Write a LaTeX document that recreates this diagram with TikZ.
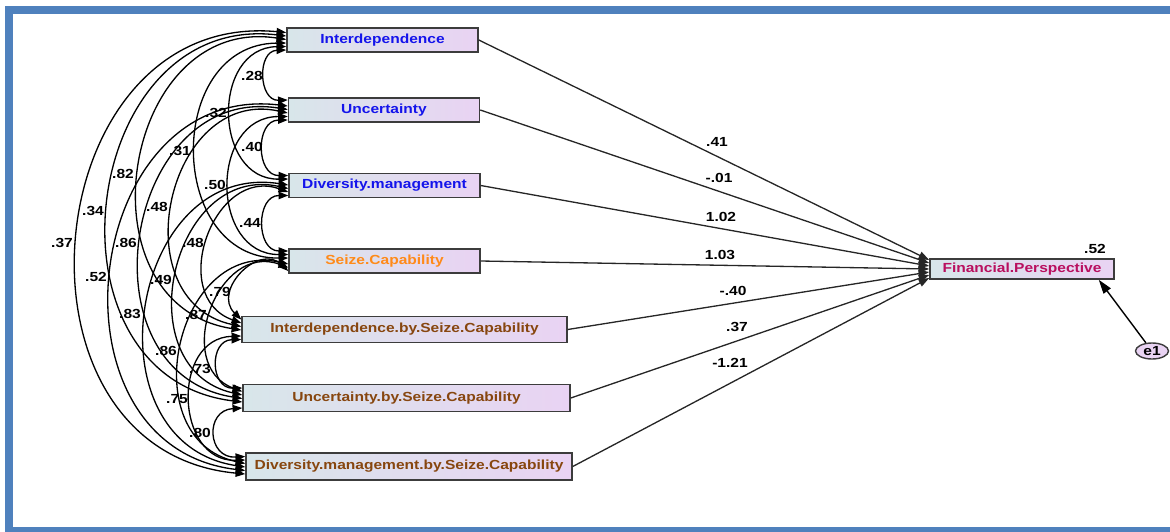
\documentclass[tikz,border=0pt]{standalone}
\usepackage{fontspec}
\newfontfamily\amosfont[FakeStretch=1.18]{Liberation Sans}
\usetikzlibrary{arrows.meta,shapes.geometric}
\definecolor{framebl}{RGB}{79,129,189}
\definecolor{boxL}{RGB}{216,230,234}
\definecolor{boxR}{RGB}{233,211,243}
\definecolor{exoblue}{RGB}{20,20,235}
\definecolor{modorange}{RGB}{255,138,25}
\definecolor{intbrown}{RGB}{135,70,15}
\definecolor{outred}{RGB}{185,15,95}
\definecolor{edgegray}{RGB}{60,60,60}
\tikzset{
  var/.style={draw=edgegray, line width=0.9pt, left color=boxL, right color=boxR,
    minimum height=0.48cm, inner sep=0pt, font=\amosfont\bfseries\fontsize{7.5}{8.8}\selectfont},
  coef/.style={inner sep=0pt, font=\amosfont\bfseries\fontsize{7.5}{8.8}\selectfont},
  cov/.style={>={Triangle[length=5.5pt,width=4.2pt]}, <->, line width=0.75pt, bend right=90, looseness=1.45},
  reg/.style={-{Triangle[length=6pt,width=4.4pt]}, line width=0.75pt, draw=black!85},
}
\begin{document}
\begin{tikzpicture}[x=0.02cm, y=-0.02cm]
  \useasboundingbox (0,0) rectangle (1170,531);
  \draw[framebl, line width=0.16cm] (9,10) rectangle (1190,531);

  % observed variables
  \node[var, minimum width=3.82cm, text=exoblue] (I) at (382.5,40) {Interdependence};
  \node[var, minimum width=3.82cm, text=exoblue] (U) at (384,110) {Uncertainty};
  \node[var, minimum width=3.82cm, text=exoblue] (D) at (384.5,185.5) {Diversity.management};
  \node[var, minimum width=3.82cm, text=modorange] (S) at (384.5,261) {Seize.Capability};
  \node[var, minimum width=6.5cm, minimum height=0.52cm, text=intbrown] (IS) at (404.5,329.5) {Interdependence.by.Seize.Capability};
  \node[var, minimum width=6.54cm, minimum height=0.54cm, text=intbrown] (US) at (406.5,398) {Uncertainty.by.Seize.Capability};
  \node[var, minimum width=6.52cm, minimum height=0.54cm, text=intbrown] (DS) at (409,466.5) {Diversity.management.by.Seize.Capability};
  \node[var, minimum width=3.68cm, minimum height=0.4cm, text=outred] (F) at (1022,269) {Financial.Perspective};
  \node[ellipse, draw=edgegray, line width=0.8pt, fill=boxR, minimum width=0.66cm, minimum height=0.32cm,
    inner sep=0pt, font=\amosfont\bfseries\fontsize{7.5}{8.8}\selectfont] (e1) at (1152,351) {e1};
  \coordinate (Ftip) at ([xshift=-0.32cm]F.south east);

  % covariances
  \draw[cov, looseness=1.5] ([yshift=-0.2cm]I.west) to ([yshift=0.2cm]U.west);
  \draw[cov, looseness=1.5] ([yshift=-0.2cm]U.west) to ([yshift=0.2cm]D.west);
  \draw[cov, looseness=1.5] ([yshift=-0.2cm]D.west) to ([yshift=0.2cm]S.west);
  \draw[cov, looseness=1.55] ([yshift=-0.2cm]S.west) to ([yshift=0.2cm]IS.west);
  \draw[cov, looseness=1.7] ([yshift=-0.2cm]IS.west) to ([yshift=0.2cm]US.west);
  \draw[cov, looseness=2] ([yshift=-0.2cm]US.west) to ([yshift=0.2cm]DS.west);
  \draw[cov] ([yshift=-0.13cm]I.west) to ([yshift=0.13cm]D.west);
  \draw[cov] ([yshift=-0.13cm]U.west) to ([yshift=0.13cm]S.west);
  \draw[cov] ([yshift=-0.13cm]D.west) to ([yshift=0.13cm]IS.west);
  \draw[cov] ([yshift=-0.13cm]S.west) to ([yshift=0.13cm]US.west);
  \draw[cov] ([yshift=-0.13cm]IS.west) to ([yshift=0.13cm]DS.west);
  \draw[cov] ([yshift=-0.06cm]I.west) to ([yshift=0.06cm]S.west);
  \draw[cov] ([yshift=-0.06cm]U.west) to ([yshift=0.06cm]IS.west);
  \draw[cov] ([yshift=-0.06cm]D.west) to ([yshift=0.06cm]US.west);
  \draw[cov] ([yshift=-0.06cm]S.west) to ([yshift=0.06cm]DS.west);
  \draw[cov] ([yshift=0.01cm]I.west) to ([yshift=-0.01cm]IS.west);
  \draw[cov] ([yshift=0.01cm]U.west) to ([yshift=-0.01cm]US.west);
  \draw[cov] ([yshift=0.01cm]D.west) to ([yshift=-0.01cm]DS.west);
  \draw[cov] ([yshift=0.08cm]I.west) to ([yshift=-0.08cm]US.west);
  \draw[cov] ([yshift=0.08cm]U.west) to ([yshift=-0.08cm]DS.west);
  \draw[cov] ([yshift=0.15cm]I.west) to ([yshift=-0.15cm]DS.west);

  \node[coef] (cIU) at (252,76) {.28};
  \node[coef] (cUD) at (252,147) {.40};
  \node[coef] (cDS) at (250,223) {.44};
  \node[coef] (cSIS) at (220,292) {.79};
  \node[coef] (cISUS) at (200,369) {.73};
  \node[coef] (cUSDS) at (200,433) {.80};
  \node[coef] (cID) at (216,113) {.32};
  \node[coef] (cUS) at (215,185) {.50};
  \node[coef] (cDIS) at (193,243) {.48};
  \node[coef] (cSUS) at (196,315) {.87};
  \node[coef] (cISDS) at (177,399) {.75};
  \node[coef] (cIS) at (180,151) {.31};
  \node[coef] (cUIS) at (157,207) {.48};
  \node[coef] (cDUS) at (161,280) {.49};
  \node[coef] (cSDS) at (166,351) {.86};
  \node[coef] (cIIS) at (123,174) {.82};
  \node[coef] (cUUS) at (126,243) {.86};
  \node[coef] (cDDS) at (130,314) {.83};
  \node[coef] (cIUS) at (93,211) {.34};
  \node[coef] (cUDS) at (96,277) {.52};
  \node[coef] (cIDS) at (62,243) {.37};

  % regression paths
  \draw[reg] (I.east) -- ([yshift=0.18cm]F.west);
  \draw[reg] (U.east) -- ([yshift=0.12cm]F.west);
  \draw[reg] (D.east) -- ([yshift=0.06cm]F.west);
  \draw[reg] (S.east) -- ([yshift=0cm]F.west);
  \draw[reg] (IS.east) -- ([yshift=-0.06cm]F.west);
  \draw[reg] (US.east) -- ([yshift=-0.12cm]F.west);
  \draw[reg] (DS.east) -- ([yshift=-0.18cm]F.west);
  \draw[-{Triangle[length=8pt,width=5pt]}, line width=0.8pt] (e1) -- (Ftip);

  \node[coef] (pI) at (717,142) {.41};
  \node[coef] (pU) at (719,178) {-.01};
  \node[coef] (pD) at (721,217) {1.02};
  \node[coef] (pS) at (720,255) {1.03};
  \node[coef] (pIS) at (733,291) {-.40};
  \node[coef] (pUS) at (737,327) {.37};
  \node[coef] (pDS) at (730,363) {-1.21};
  \node[coef] (rF) at (1095,249) {.52};
\end{tikzpicture}
\end{document}
